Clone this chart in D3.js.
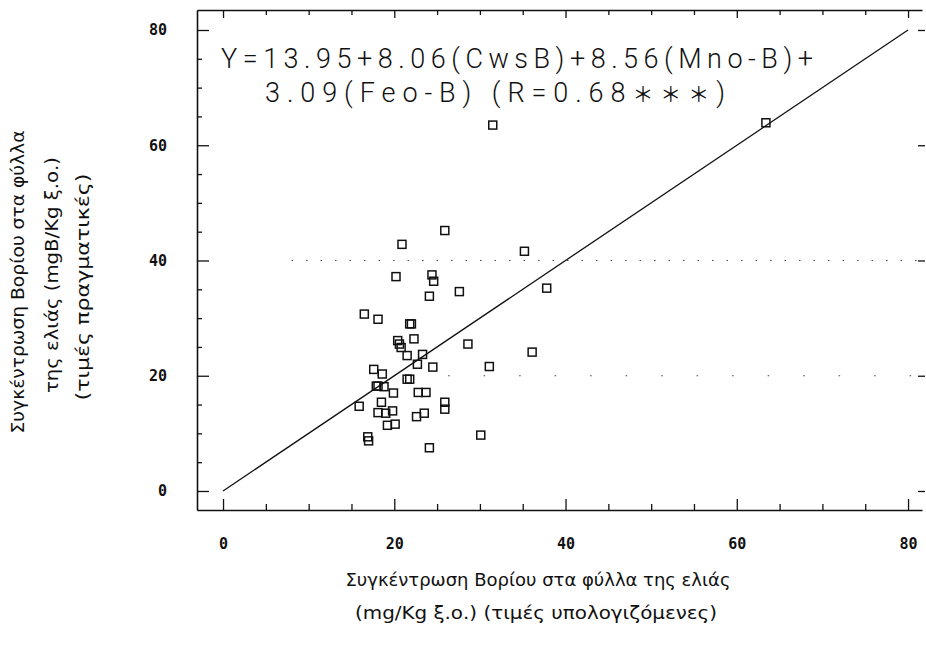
<!DOCTYPE html>
<html>
<head>
<meta charset="utf-8">
<script src="https://cdn.jsdelivr.net/npm/d3@7/dist/d3.min.js"></script>
<style>
  body { margin: 0; background: #fff; }
  svg { display: block; }
</style>
</head>
<body>
<svg width="926" height="654"></svg>
<script>
const calcB = [25.9, 20.9, 35.2, 20.2, 24.4, 24.6, 27.6, 24.1, 37.8, 16.5,
  18.1, 21.8, 22.0, 20.4, 20.6, 22.3, 20.8, 28.6, 36.1, 21.5,
  23.3, 22.7, 24.5, 31.1, 17.6, 18.6, 21.5, 21.8, 17.9, 18.1,
  18.8, 19.9, 22.8, 23.7, 15.9, 18.5, 25.9, 25.9, 18.1, 19.0,
  19.8, 22.6, 23.5, 19.2, 20.1, 16.9, 17.0, 30.1, 24.1, 31.5, 63.4]
const actualB = [45.2, 42.8, 41.6, 37.2, 37.5, 36.4, 34.6, 33.8, 35.2, 30.7,
  29.8, 29.0, 29.0, 26.1, 25.5, 26.4, 24.9, 25.5, 24.1, 23.5,
  23.7, 22.0, 21.5, 21.6, 21.1, 20.3, 19.4, 19.4, 18.2, 18.2,
  18.1, 17.0, 17.1, 17.1, 14.7, 15.4, 15.4, 14.2, 13.6, 13.5,
  13.9, 12.9, 13.5, 11.4, 11.6, 9.4, 8.7, 9.7, 7.5, 63.5, 63.9]

const majorTicks = [0, 20, 40, 60, 80]
const minorTicks = [5, 10, 15, 25, 30, 35, 45, 50, 55, 65, 70, 75]
const gridLevels = [20, 40]
const fitLine = [0, 80] // 1:1 line

const eqLines = ['Y=13.95+8.06(CwsB)+8.56(Mno-B)+', '3.09(Feo-B)  (R=0.68', '＊＊＊', ')']
const yTitle = ['Συγκέντρωση Βορίου στα φύλλα', 'της ελιάς (mgB/Kg ξ.ο.)', '(τιμές πραγματικές)']
const xTitle = ['Συγκέντρωση Βορίου στα φύλλα της ελιάς', '(mg/Kg ξ.ο.) (τιμές υπολογιζόμενες)']

const svg = d3.select('svg')
const plotLeft = 197, plotRight = 922, plotTop = 10, plotBottom = 510

const x = d3.scaleLinear().domain([-3.04, 81.63]).range([plotLeft, plotRight])
const y = d3.scaleLinear().domain([-3.3, 83.47]).range([plotBottom, plotTop])

// faint dotted grid remnants
svg.append('g')
  .selectAll('line')
  .data(gridLevels)
  .join('line')
  .attr('x1', (d) => (d === 40 ? x(8) : x(18)))
  .attr('x2', plotRight - 4)
  .attr('y1', (d) => y(d)).attr('y2', (d) => y(d))
  .attr('stroke', '#444')
  .attr('stroke-width', 1.2)
  .attr('stroke-dasharray', (d) => (d === 40 ? '1.5,13' : '1.5,34'))

// helper for tick marks
const drawTicks = (axis, transform, values, size, keepDomain) => {
  const g = svg.append('g')
    .attr('transform', transform)
    .call(axis.tickValues(values).tickSizeInner(size).tickSizeOuter(0).tickFormat(''))
  g.selectAll('line').attr('stroke', '#111').attr('stroke-width', 1.3)
  if (keepDomain) g.select('.domain').attr('stroke', '#111').attr('stroke-width', 1.6)
  else g.select('.domain').remove()
}

drawTicks(d3.axisLeft(y), `translate(${plotLeft},0)`, majorTicks, -12, true)
drawTicks(d3.axisLeft(y), `translate(${plotLeft},0)`, minorTicks, -5, false)
drawTicks(d3.axisBottom(x), `translate(0,${plotBottom})`, majorTicks, -11, true)
drawTicks(d3.axisBottom(x), `translate(0,${plotBottom})`, minorTicks, -6, false)
drawTicks(d3.axisTop(x), `translate(0,${plotTop})`, majorTicks, -8, true)
drawTicks(d3.axisTop(x), `translate(0,${plotTop})`, minorTicks, -5, false)
drawTicks(d3.axisRight(y), `translate(${plotRight - 4},0)`, majorTicks, 7, false)

// tick labels
const labelFont = (g) => {
  g.select('.domain').remove()
  g.selectAll('text')
    .attr('font-family', '"DejaVu Sans Mono", monospace')
    .attr('font-weight', 'bold')
    .attr('font-size', 15)
    .attr('fill', '#111')
}
svg.append('g')
  .attr('transform', `translate(${plotLeft},0)`)
  .call(d3.axisLeft(y).tickValues(majorTicks).tickSize(0).tickPadding(30))
  .call(labelFont)
svg.append('g')
  .attr('transform', `translate(0,${plotBottom})`)
  .call(d3.axisBottom(x).tickValues(majorTicks).tickSize(0).tickPadding(28))
  .call(labelFont)

// 1:1 line
svg.append('line')
  .attr('x1', x(fitLine[0])).attr('y1', y(fitLine[0]))
  .attr('x2', x(fitLine[1])).attr('y2', y(fitLine[1]))
  .attr('stroke', '#111')
  .attr('stroke-width', 1.3)

// points
svg.append('g')
  .selectAll('rect')
  .data(calcB.map((d, i) => [d, actualB[i]]))
  .join('rect')
  .attr('x', (d) => x(d[0]) - 4)
  .attr('y', (d) => y(d[1]) - 4)
  .attr('width', 8)
  .attr('height', 8)
  .attr('fill', 'none')
  .attr('stroke', '#111')
  .attr('stroke-width', 1.5)

// equation
const eq = svg.append('g')
  .attr('font-family', 'Roboto, "DejaVu Sans", sans-serif')
  .attr('font-weight', 300)
  .attr('font-size', 27)
  .attr('fill', '#111')
  .style('white-space', 'pre')
eq.append('text').attr('x', 221).attr('y', 68)
  .attr('textLength', 592).attr('lengthAdjust', 'spacing').text(eqLines[0])
const eq2 = eq.append('text').attr('x', 265).attr('y', 102)
  .attr('textLength', 460).attr('lengthAdjust', 'spacing')
eq2.append('tspan').text(eqLines[1])
eq2.append('tspan')
  .attr('font-family', '"Noto Sans CJK SC", sans-serif')
  .attr('font-weight', 400)
  .attr('font-size', 21)
  .text(eqLines[2])
eq2.append('tspan').text(eqLines[3])

// axis titles
const titleFont = '"DejaVu Sans Condensed", "Liberation Sans Narrow", sans-serif'
const yPos = [[18, 282, 303], [52, 275, 236], [83, 287, 227]]
yTitle.forEach((t, i) => {
  svg.append('text')
    .attr('transform', `translate(${yPos[i][0]},${yPos[i][1]}) rotate(-90)`)
    .attr('text-anchor', 'middle')
    .attr('dy', '0.35em')
    .attr('font-family', titleFont)
    .attr('font-size', 17)
    .attr('fill', '#111')
    .attr('textLength', yPos[i][2])
    .attr('lengthAdjust', 'spacingAndGlyphs')
    .text(t)
})
const xPos = [[538, 586, 385], [536, 619, 362]]
xTitle.forEach((t, i) => {
  svg.append('text')
    .attr('x', xPos[i][0]).attr('y', xPos[i][1])
    .attr('text-anchor', 'middle')
    .attr('font-family', titleFont)
    .attr('font-size', 17)
    .attr('fill', '#111')
    .attr('textLength', xPos[i][2])
    .attr('lengthAdjust', 'spacingAndGlyphs')
    .text(t)
})
</script>
</body>
</html>
